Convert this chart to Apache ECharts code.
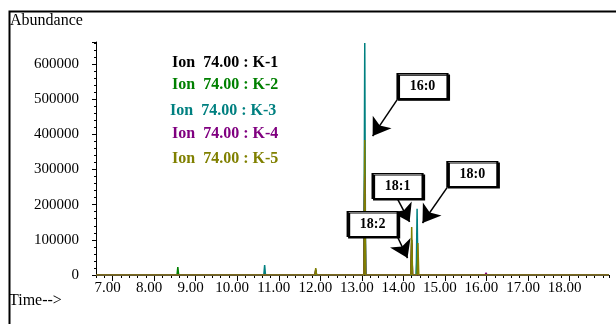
<!DOCTYPE html>
<html>
<head>
<meta charset="utf-8">
<script src="https://cdn.jsdelivr.net/npm/echarts@6/dist/echarts.min.js"></script>
<style>
  html, body { margin: 0; padding: 0; background: #fff; }
  #main { width: 616px; height: 324px; }
</style>
</head>
<body>
<div id="main"></div>
<script>
// Ion 74.00 chromatograms, K-1 .. K-5 (time in min, abundance)
var seriesNames = ['Ion  74.00 : K-1', 'Ion  74.00 : K-2', 'Ion  74.00 : K-3', 'Ion  74.00 : K-4', 'Ion  74.00 : K-5'];
var seriesColors = ['#000000', '#008000', '#008080', '#800080', '#808000'];

var k1 = [[6.6, 0], [11.87, 0], [11.89, 15000], [11.91, 0], [12.71, 0], [12.73, 5000], [12.75, 0],
  [13.05, 0], [13.07, 300000], [13.09, 0], [13.68, 0], [13.70, 2000], [13.72, 0],
  [14.18, 0], [14.20, 100000], [14.22, 0], [18.95, 0]];
var k2 = [[6.6, 0], [7.81, 0], [7.83, 5000], [7.85, 0], [8.55, 0], [8.57, 22700], [8.59, 0],
  [10.64, 0], [10.66, 5000], [10.68, 0], [13.05, 0], [13.07, 250000], [13.09, 0],
  [14.31, 0], [14.33, 60000], [14.35, 0], [18.95, 0]];
var k3 = [[6.6, 0], [8.55, 0], [8.57, 3000], [8.59, 0], [9.32, 0], [9.34, 3000], [9.36, 0],
  [10.64, 0], [10.66, 28400], [10.68, 0], [12.48, 0], [12.50, 3000], [12.52, 0],
  [13.05, 0], [13.07, 660000], [13.09, 0], [14.31, 0], [14.33, 188000], [14.35, 0], [18.95, 0]];
var k4 = [[6.6, 0], [11.87, 0], [11.89, 12000], [11.91, 0], [13.05, 0], [13.07, 280000], [13.09, 0],
  [14.18, 0], [14.20, 90000], [14.22, 0], [15.78, 0], [15.80, 3000], [15.82, 0],
  [15.97, 0], [15.99, 6000], [16.01, 0], [18.26, 0], [18.28, 4000], [18.30, 0], [18.95, 0]];
var k5 = [[6.6, 0], [11.87, 0], [11.89, 20000], [11.91, 0], [13.05, 0], [13.07, 384000], [13.09, 0],
  [14.18, 0], [14.20, 136500], [14.22, 0], [14.33, 0], [14.35, 91000], [14.37, 0],
  [15.97, 0], [15.99, 4000], [16.01, 0], [18.26, 0], [18.28, 3000], [18.30, 0], [18.95, 0]];
var seriesData = [k1, k2, k3, k4, k5];

var xLabels = [7, 8, 9, 10, 11, 12, 13, 14, 15, 16, 17, 18];
var yLabels = [0, 100000, 200000, 300000, 400000, 500000, 600000];

// peak annotations: name, box centre [time, abundance], arrow start, arrow tip
var noteNames = ['16:0', '18:0', '18:1', '18:2'];
var noteBoxes = [[14.46, 537000], [15.66, 287000], [13.86, 253000], [13.26, 145000]];
var noteFrom = [[13.86, 500000], [15.06, 250000], [13.86, 216000], [13.86, 108000]];
var noteTo = [[13.26, 395000], [14.46, 148000], [14.15, 151000], [14.10, 48000]];

var serif = '"Liberation Serif", "DejaVu Serif", serif';
var chart = echarts.init(document.getElementById('main'));

var series = seriesNames.map(function (name, i) {
  return {
    type: 'line',
    name: name,
    data: seriesData[i],
    showSymbol: false,
    symbol: 'none',
    z: 3 + i,
    lineStyle: { color: seriesColors[i], width: 1.5 },
    itemStyle: { color: seriesColors[i] }
  };
});

// annotations on top of all traces
series.push({
  type: 'line',
  name: 'notes',
  data: [],
  z: 20,
  silent: true,
  markLine: {
    silent: true,
    z: 20,
    symbol: ['none', 'arrow'],
    symbolSize: 17,
    lineStyle: { color: '#000', width: 1.5, type: 'solid' },
    label: { show: false },
    data: noteFrom.map(function (p, i) {
      return [{ coord: p }, { coord: noteTo[i] }];
    })
  },
  markPoint: {
    silent: true,
    z: 21,
    symbol: 'rect',
    symbolSize: [50, 25],
    itemStyle: {
      color: '#fff', borderColor: '#000', borderWidth: 1.5,
      shadowColor: '#000', shadowOffsetX: 1.5, shadowOffsetY: 1.5, shadowBlur: 0
    },
    label: {
      show: true, position: 'inside', color: '#000',
      fontFamily: serif, fontWeight: 'bold', fontSize: 14,
      formatter: function (p) { return p.name; }
    },
    data: noteNames.map(function (n, i) {
      return { name: n, coord: noteBoxes[i] };
    })
  }
});

var legendTop = [62, 84, 110, 133, 158];
var legendLeft = [172, 172, 170, 172, 172];

var option = {
  animation: false,
  grid: { left: 96, right: 7, top: 42, bottom: 49 },
  xAxis: [
    {
      type: 'value',
      min: 6.6,
      max: 18.95,
      interval: 0.2,
      axisLine: { show: true, lineStyle: { color: '#000', width: 1 } },
      axisTick: { show: true, length: 3, lineStyle: { color: '#000' } },
      axisLabel: { show: false },
      splitLine: { show: false }
    },
    {
      type: 'value',
      position: 'bottom',
      min: 6.6,
      max: 18.95,
      axisLine: { show: false },
      axisTick: { show: true, length: 6, customValues: xLabels, lineStyle: { color: '#000' } },
      axisLabel: {
        show: true,
        customValues: xLabels,
        color: '#000',
        fontFamily: serif,
        fontSize: 15,
        margin: 6,
        padding: [0, 10, 0, 0],
        formatter: function (v) { return v.toFixed(2); }
      },
      splitLine: { show: false }
    }
  ],
  yAxis: {
    type: 'value',
    min: 0,
    max: 662500,
    interval: 100000,
    axisLine: { show: true, lineStyle: { color: '#000', width: 1 } },
    axisTick: { show: true, length: 4, lineStyle: { color: '#000' } },
    minorTick: { show: true, splitNumber: 5, length: 2, lineStyle: { color: '#000' } },
    axisLabel: {
      customValues: yLabels,
      color: '#000',
      fontFamily: serif,
      fontSize: 15,
      margin: 17,
      formatter: function (v) { return String(v); }
    },
    splitLine: { show: false }
  },
  graphic: [
    {
      type: 'rect',
      left: 7, top: 9,
      shape: { width: 640, height: 360 },
      style: { fill: 'none', stroke: '#000', lineWidth: 2 },
      silent: true
    },
    {
      type: 'text', left: 10, top: 13,
      style: { text: 'Abundance', fill: '#000', font: '16px ' + serif }
    },
    {
      type: 'text', left: 9, top: 293,
      style: { text: 'Time-->', fill: '#000', font: '16px ' + serif }
    }
  ].concat(seriesNames.map(function (n, i) {
    return {
      type: 'text',
      left: legendLeft[i],
      top: legendTop[i] - 7,
      style: { text: n, fill: seriesColors[i], font: 'bold 16px ' + serif }
    };
  })),
  series: series
};

chart.setOption(option);
</script>
</body>
</html>
